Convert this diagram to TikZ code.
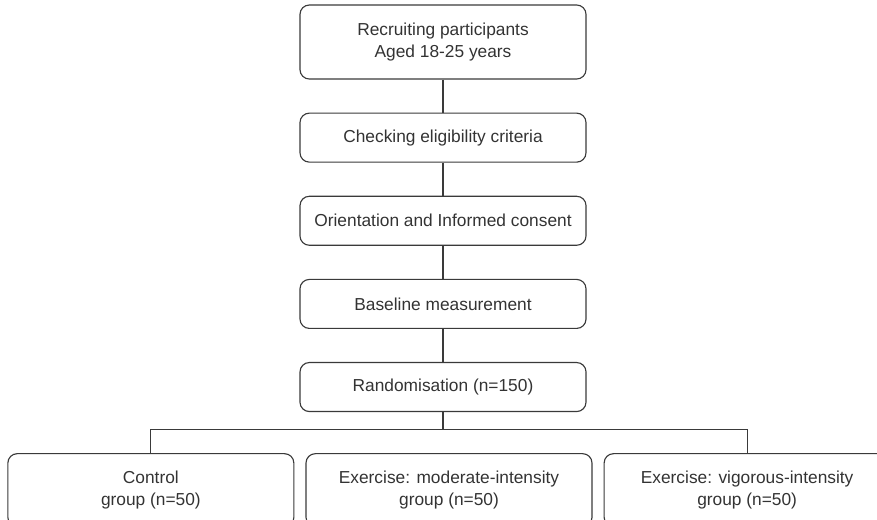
\documentclass[tikz,border=0pt]{standalone}
\usepackage{fontspec}
\setmainfont{Liberation Sans}
\usetikzlibrary{positioning}
\definecolor{inkgray}{HTML}{333333}
\definecolor{edgegray}{HTML}{3A3A3A}

\begin{document}
\begin{tikzpicture}[node distance=24.75pt, line width=0.85pt, draw=edgegray]
    \tikzstyle{stage} = [rectangle, rounded corners=7pt, minimum width=214.5pt, minimum height=36.75pt, text centered, draw=edgegray, text=inkgray, font=\fontsize{13}{16.5}\selectfont, align=center]
    \tikzstyle{arm} = [stage, minimum height=54.75pt, font=\fontsize{13}{17}\selectfont]
    \useasboundingbox (0,0) rectangle (657.75pt,-389.25pt);

    % Main column
    \node [stage, minimum height=55.5pt] (recruit) at (332.25pt,-31.5pt) {Recruiting participants\\Aged 18-25 years};
    \node [stage, below=of recruit] (elig) {Checking eligibility criteria};
    \node [stage, below=of elig] (consent) {Orientation and Informed consent};
    \node [stage, below=of consent] (baseline) {Baseline measurement};
    \node [stage, below=of baseline] (rand) {Randomisation (n=150)};

    % Groups
    \node [arm, below=30.75pt of rand, xshift=4.5pt] (moderate) {Exercise: moderate-intensity\\group (n=50)};
    \node [arm, left=8.25pt of moderate] (control) {Control\\group (n=50)};
    \node [arm, right=8.25pt of moderate] (vigorous) {Exercise: vigorous-intensity\\group (n=50)};
    \coordinate [below=12.75pt of rand] (fork);

    % Connections
    \draw (recruit) -- (elig);
    \draw (elig) -- (consent);
    \draw (consent) -- (baseline);
    \draw (baseline) -- (rand);
    \draw (rand) -- (fork);
    \draw (control.north) |- (fork) -| (vigorous.north);
\end{tikzpicture}
\end{document}
